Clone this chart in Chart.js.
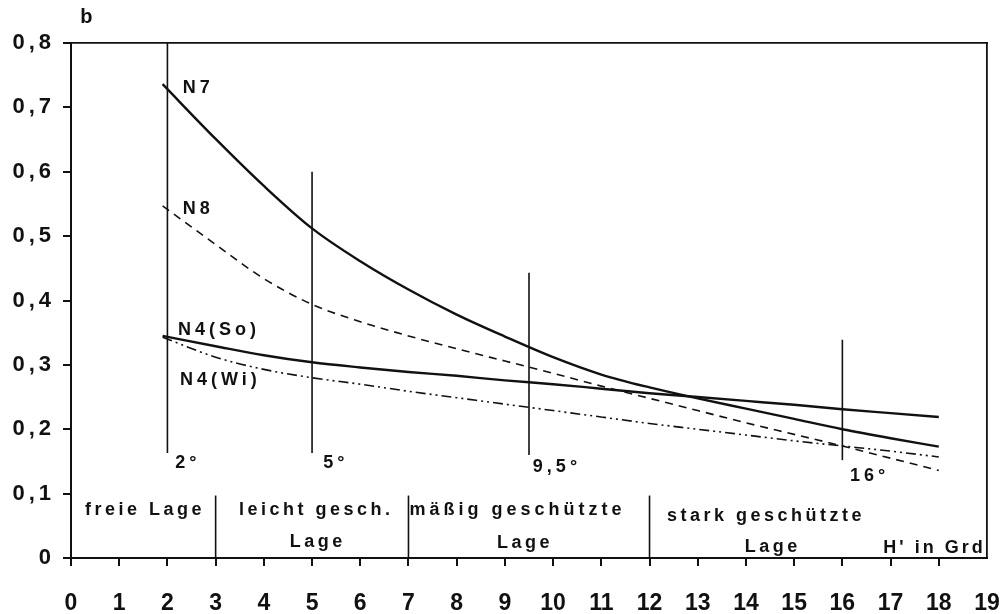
<!DOCTYPE html>
<html>
<head>
<meta charset="utf-8">
<script src="https://cdn.jsdelivr.net/npm/chart.js@4.4.1/dist/chart.umd.min.js"></script>
<style>
  html, body { margin: 0; padding: 0; background: #fff; }
  #wrap { width: 1003px; height: 614px; position: relative; }
</style>
</head>
<body>
<div id="wrap"><canvas id="chart"></canvas></div>
<script>
// ===============================
// Data
// ===============================
const curveX = [1.9, 3, 4, 5, 6, 7, 8, 9, 10, 11, 12, 13, 14, 15, 16, 17, 18];
const n7     = [0.736, 0.651, 0.578, 0.512, 0.461, 0.417, 0.378, 0.344, 0.312, 0.285, 0.265, 0.248, 0.232, 0.216, 0.2, 0.186, 0.173];
const n8     = [0.547, 0.487, 0.434, 0.394, 0.367, 0.345, 0.325, 0.306, 0.287, 0.267, 0.248, 0.229, 0.21, 0.192, 0.174, 0.155, 0.136];
const n4So   = [0.345, 0.329, 0.315, 0.304, 0.296, 0.289, 0.283, 0.276, 0.27, 0.263, 0.256, 0.25, 0.244, 0.238, 0.231, 0.225, 0.219];
const n4Wi   = [0.343, 0.312, 0.293, 0.28, 0.27, 0.259, 0.249, 0.239, 0.229, 0.219, 0.209, 0.2, 0.191, 0.182, 0.174, 0.166, 0.157];

// vertical marker lines (H' in degrees)
const markerX      = [2, 5, 9.5, 16];
const markerTop    = [0.8, 0.6, 0.443, 0.339];
const markerBottom = [0.163, 0.163, 0.16, 0.152];
const markerLabels = ["2°", "5°", "9,5°", "16°"];

// zone dividers along the bottom
const dividerX   = [3, 7, 12];
const dividerTop = 0.097;

const xTicks = [0, 1, 2, 3, 4, 5, 6, 7, 8, 9, 10, 11, 12, 13, 14, 15, 16, 17, 18, 19];
const yTicks = [0, 0.1, 0.2, 0.3, 0.4, 0.5, 0.6, 0.7, 0.8];

// ===============================
// Text placed in data units
// ===============================
const texts = [
    { t: "b", x: 0.19, y: 0.839, size: 20, sp: 1, align: "left" },
    { t: "N7", x: 2.32, y: 0.730, size: 18, sp: 4, align: "left" },
    { t: "N8", x: 2.32, y: 0.542, size: 18, sp: 4, align: "left" },
    { t: "N4(So)", x: 2.22, y: 0.354, size: 18, sp: 4, align: "left" },
    { t: "N4(Wi)", x: 2.26, y: 0.277, size: 18, sp: 4, align: "left" },
    { t: "freie Lage", x: 1.5, y: 0.0746, size: 18, sp: 3.5, align: "center" },
    { t: "leicht gesch.", x: 5.05, y: 0.0746, size: 18, sp: 3.5, align: "center" },
    { t: "Lage", x: 5.08, y: 0.025, size: 18, sp: 3.5, align: "center" },
    { t: "mäßig geschützte", x: 9.22, y: 0.0746, size: 18, sp: 4, align: "center" },
    { t: "Lage", x: 9.38, y: 0.0233, size: 18, sp: 3.5, align: "center" },
    { t: "stark geschützte", x: 14.38, y: 0.065, size: 18, sp: 3.5, align: "center" },
    { t: "Lage", x: 14.52, y: 0.017, size: 18, sp: 3.5, align: "center" },
    { t: "H' in Grd", x: 17.88, y: 0.0155, size: 18, sp: 3, align: "center" }
];
const markerLabelPos = [
    { x: 2.16, y: 0.148 },
    { x: 5.23, y: 0.148 },
    { x: 9.58, y: 0.141 },
    { x: 16.16, y: 0.127 }
];

const INK = "#111";
const FONT = "'Liberation Sans', Arial, sans-serif";

function pts(ys) {
    return ys.map((v, i) => ({ x: curveX[i], y: v }));
}

function curve(ys, width, dash) {
    return {
        data: pts(ys),
        borderColor: INK,
        borderWidth: width,
        borderDash: dash,
        pointRadius: 0,
        fill: false,
        cubicInterpolationMode: "monotone"
    };
}

function straight(x, y0, y1) {
    return {
        data: [{ x: x, y: y0 }, { x: x, y: y1 }],
        borderColor: INK,
        borderWidth: 1.6,
        pointRadius: 0,
        fill: false
    };
}

const datasets = [
    curve(n7, 2.4, []),
    curve(n8, 1.6, [8, 6]),
    curve(n4So, 2.4, []),
    curve(n4Wi, 1.6, [10, 4, 2, 4, 2, 4])
];
markerX.forEach((mx, i) => datasets.push(straight(mx, markerBottom[i], markerTop[i])));
dividerX.forEach(dx => datasets.push(straight(dx, 0, dividerTop)));

// ===============================
// Text plugin
// ===============================
const textPlugin = {
    id: "texts",
    afterDraw(chart) {
        const { ctx, scales: { x, y } } = chart;
        ctx.save();
        ctx.fillStyle = INK;
        ctx.textBaseline = "middle";
        texts.forEach(o => {
            ctx.font = "bold " + o.size + "px " + FONT;
            ctx.letterSpacing = o.sp + "px";
            ctx.textAlign = o.align;
            const dx = o.align === "center" ? o.sp / 2 : 0;
            ctx.fillText(o.t, x.getPixelForValue(o.x) + dx, y.getPixelForValue(o.y));
        });
        ctx.font = "bold 18px " + FONT;
        ctx.letterSpacing = "4px";
        ctx.textAlign = "left";
        markerLabels.forEach((lab, i) => {
            const p = markerLabelPos[i];
            ctx.fillText(lab, x.getPixelForValue(p.x), y.getPixelForValue(p.y));
        });
        ctx.restore();
    }
};

// y labels in the figure are widely spaced
function spacedLabels(s) {
    if (s._spaced) return;
    const orig = s.drawLabels.bind(s);
    s.drawLabels = function (area) {
        s.ctx.save();
        s.ctx.letterSpacing = "4px";
        orig(area);
        s.ctx.restore();
    };
    s._spaced = true;
}

new Chart(document.getElementById("chart"), {
    type: "line",
    data: { datasets: datasets },
    options: {
        responsive: true,
        maintainAspectRatio: false,
        animation: false,
        layout: { padding: { top: 43, right: 16, left: 0, bottom: 0 } },
        plugins: {
            legend: { display: false },
            tooltip: { enabled: false }
        },
        scales: {
            x: {
                type: "linear",
                min: 0,
                max: 19,
                afterBuildTicks: s => { s.ticks = xTicks.map(v => ({ value: v })); },
                afterFit: s => { s.height = 56; s.paddingLeft = 0; s.paddingRight = 0; },
                ticks: {
                    color: INK,
                    padding: 24,
                    font: { family: FONT, size: 23, weight: "bold" },
                    callback: v => String(v)
                },
                grid: {
                    drawOnChartArea: false,
                    tickLength: 8,
                    lineWidth: 2,
                    color: c => (c.tick && c.tick.value === 19 ? "rgba(0,0,0,0)" : INK)
                },
                border: { color: INK, width: 2 }
            },
            y: {
                type: "linear",
                min: 0,
                max: 0.8,
                afterBuildTicks: s => { s.ticks = yTicks.map(v => ({ value: v })); },
                afterFit: s => { s.width = 71; spacedLabels(s); },
                ticks: {
                    color: INK,
                    padding: 8,
                    font: { family: FONT, size: 22, weight: "bold" },
                    callback: v => (v === 0 ? "0" : v.toFixed(1).replace(".", ","))
                },
                grid: {
                    drawOnChartArea: false,
                    tickLength: 8,
                    lineWidth: 2,
                    color: INK
                },
                border: { color: INK, width: 2 }
            },
            xTop: {
                type: "linear",
                position: "top",
                axis: "x",
                min: 0,
                max: 19,
                afterFit: s => { s.height = 0; },
                ticks: { display: false },
                grid: { display: false },
                border: { color: INK, width: 1.8 }
            },
            yRight: {
                type: "linear",
                position: "right",
                axis: "y",
                min: 0,
                max: 0.8,
                afterFit: s => { s.width = 0; },
                ticks: { display: false },
                grid: { display: false },
                border: { color: INK, width: 1.8 }
            }
        }
    },
    plugins: [textPlugin]
});
</script>
</body>
</html>
